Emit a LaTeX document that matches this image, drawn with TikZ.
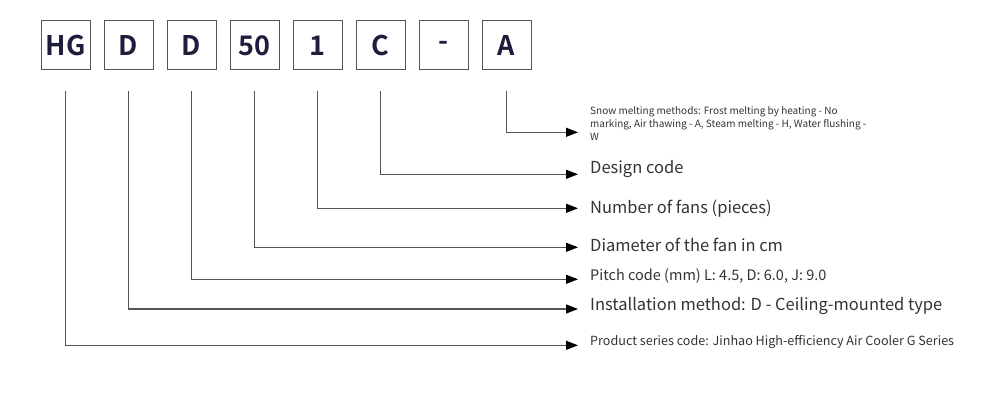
\documentclass[tikz,border=0pt]{standalone}
\usepackage{fontspec}
\setmainfont{Noto Sans CJK SC}[BoldFont={Noto Sans CJK SC Bold}]
\usetikzlibrary{arrows.meta}
\definecolor{codeblue}{HTML}{1E1E3C}
\definecolor{linegray}{HTML}{555555}
\definecolor{textgray}{HTML}{333333}

\begin{document}
\begin{tikzpicture}[
		x=1pt, y=-1pt,
		every node/.style={inner sep=0pt},
		code/.style={draw=linegray, line width=1pt, minimum width=49pt, minimum height=49pt,
			font=\bfseries\fontsize{27}{27}\selectfont, text=codeblue},
		desc/.style={anchor=base west, text=textgray, font=\fontsize{16.5}{16.5}\selectfont},
		lead/.style={draw=linegray, line width=1.2pt, -{Triangle[length=12pt,width=9pt,color=black]}}
	]
  \useasboundingbox (0,0) rectangle (1000,406);
  % code boxes
  \node (HG) [code] at (65.5,45.5) {HG};
  \node (D_inst) [code] at (128.5,45.5) {D};
  \node (D_pitch) [code] at (191.5,45.5) {D};
  \node (n50) [code] at (254.5,45.5) {50};
  \node (n1) [code] at (317.5,45.5) {1};
  \node (C) [code] at (380.5,45.5) {C};
  \node (dash) [code] at (443.5,45.5) {-};
  \node (A) [code] at (506.5,45.5) {A};
  % descriptions
  \node (t_snow) [desc, font=\fontsize{10}{13}\selectfont, align=left] at (590,141)
    {Snow melting methods: Frost melting by heating - No\\marking, Air thawing - A, Steam melting - H, Water flushing -\\W};
  \node (t_design) [desc] at (590,173) {Design code};
  \node (t_fans) [desc] at (590,213.3) {Number of fans (pieces)};
  \node (t_diam) [desc] at (590,251.7) {Diameter of the fan in cm};
  \node (t_pitch) [desc, font=\fontsize{14.5}{14.5}\selectfont] at (590,280) {Pitch code (mm) L: 4.5, D: 6.0, J: 9.0};
  \node (t_inst) [desc] at (590,310) {Installation method: D - Ceiling-mounted type};
  \node (t_series) [desc, font=\fontsize{12.6}{12.6}\selectfont] at (590,345.7) {Product series code: Jinhao High-efficiency Air Cooler G Series};
  % arrow ends
  \coordinate (e_snow) at (578,132.3);
  \coordinate (e_design) at (578,174.3);
  \coordinate (e_fans) at (578,208.3);
  \coordinate (e_diam) at (578,247.3);
  \coordinate (e_pitch) at (578,279.3);
  \coordinate (e_inst) at (578,309);
  \coordinate (e_series) at (578,345.3);
  % leaders
  \draw [lead] ([yshift=-21pt]A.south) |- (e_snow);
  \draw [lead] ([yshift=-21pt]C.south) |- (e_design);
  \draw [lead] ([yshift=-21pt]n1.south) |- (e_fans);
  \draw [lead] ([yshift=-21pt]n50.south) |- (e_diam);
  \draw [lead] ([yshift=-21pt]D_pitch.south) |- (e_pitch);
  \draw [lead] ([yshift=-21pt]D_inst.south) |- (e_inst);
  \draw [lead] ([yshift=-21pt]HG.south) |- (e_series);
\end{tikzpicture}
\end{document}
